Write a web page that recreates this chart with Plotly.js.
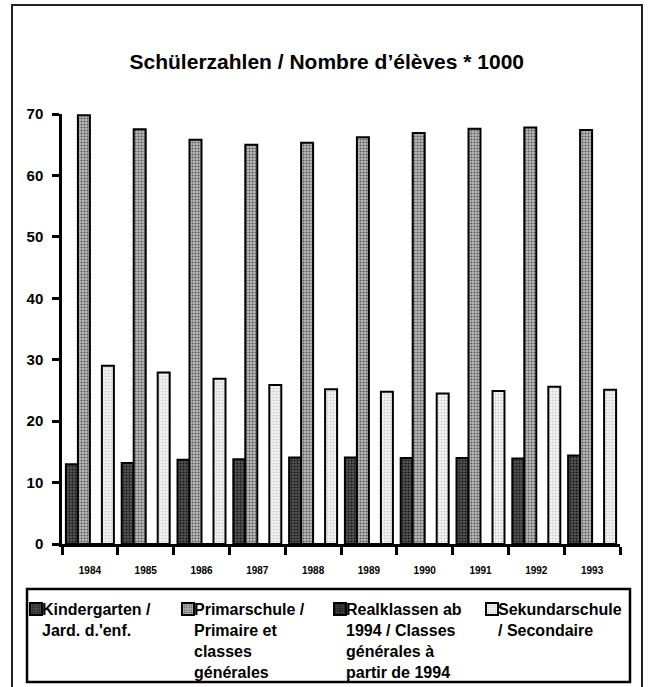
<!DOCTYPE html>
<html>
<head>
<meta charset="utf-8">
<script src="https://cdn.plot.ly/plotly-3.0.1.min.js"></script>
<style>
  html, body { margin: 0; padding: 0; background: #fff; }
  #chart { width: 651px; height: 687px; }
</style>
</head>
<body>
<div id="chart"></div>
<script>
// ---- data ----
const years = ['1984','1985','1986','1987','1988','1989','1990','1991','1992','1993'];
const kindergarten = [13.0, 13.2, 13.7, 13.8, 14.1, 14.1, 14.0, 14.0, 13.9, 14.4];
const primarschule = [69.8, 67.5, 65.8, 65.0, 65.3, 66.2, 66.9, 67.6, 67.8, 67.4];
const realklassen  = [0, 0, 0, 0, 0, 0, 0, 0, 0, 0];
const sekundarschule = [29.0, 27.9, 26.9, 25.9, 25.2, 24.8, 24.5, 24.9, 25.6, 25.1];
const seriesNames = [
  'Kindergarten /<br>Jard. d.\'enf.',
  'Primarschule /<br>Primaire et<br>classes<br>générales',
  'Realklassen ab<br>1994 / Classes<br>générales à<br>partir de 1994',
  'Sekundarschule<br>/ Secondaire'
];
const yTicks = [0, 10, 20, 30, 40, 50, 60, 70];

// ---- styling ----
const FONT = 'Liberation Sans, Arial, Helvetica, sans-serif';
const fills = [
  {bg: '#555555', fg: '#161616'},
  {bg: '#bcbcbc', fg: '#5a5a5a'},
  {bg: '#1a1a1a', fg: '#555555'},
  {bg: '#f6f6f6', fg: '#cfcfcf'}
];
const values = [kindergarten, primarschule, realklassen, sekundarschule];

const traces = values.map((v, i) => ({
  type: 'bar',
  x: years,
  y: v,
  name: seriesNames[i],
  marker: {
    color: fills[i].bg,
    line: {color: '#000', width: 2},
    pattern: {shape: '.', fgcolor: fills[i].fg, bgcolor: fills[i].bg, size: 3, solidity: 0.4, fillmode: 'replace'}
  },
  hoverinfo: 'x+y'
}));

// plot area geometry (px)
const W = 651, H = 687;
const L = 62, R = 31, T = 114, B = 143;
const pw = W - L - R, ph = H - T - B;
const px = x => (x - L) / pw;
const py = y => (H - B - y) / ph;

const layout = {
  width: W, height: H,
  margin: {l: L, r: R, t: T, b: B, pad: 0, autoexpand: false},
  paper_bgcolor: '#fff',
  plot_bgcolor: '#fff',
  font: {family: FONT, color: '#000'},
  title: {
    text: '<b>Schülerzahlen / Nombre d’élèves * 1000</b>',
    font: {family: FONT, size: 21, color: '#000'},
    x: 0.502, xanchor: 'center', xref: 'container',
    y: 1 - 62 / H, yanchor: 'middle', yref: 'container'
  },
  barmode: 'group',
  bargap: 0.14,
  bargroupgap: 0,
  xaxis: {
    type: 'category',
    categoryarray: years, categoryorder: 'array',
    tickson: 'boundaries',
    ticks: 'outside', ticklen: 8, tickwidth: 2.5, tickcolor: '#000',
    showline: true, linecolor: '#000', linewidth: 2.5,
    showgrid: false, zeroline: false,
    tickfont: {family: FONT, size: 10, color: '#000', weight: 'bold'},
    ticklabelstandoff: 15,
    fixedrange: true
  },
  // overlay axis so the x ticks cross the axis line
  xaxis2: {
    type: 'category', overlaying: 'x', anchor: 'y',
    categoryarray: years, categoryorder: 'array',
    range: [-0.5, years.length - 0.5],
    tickson: 'boundaries',
    ticks: 'inside', ticklen: 4, tickwidth: 2.5, tickcolor: '#000',
    showticklabels: false, showline: false, showgrid: false, zeroline: false,
    fixedrange: true
  },
  yaxis: {
    range: [0, 70],
    tickvals: yTicks,
    ticks: 'outside', ticklen: 7, tickwidth: 2.5, tickcolor: '#000',
    showline: true, linecolor: '#000', linewidth: 2.5,
    showgrid: false, zeroline: false,
    tickfont: {family: FONT, size: 15, color: '#000', weight: 'bold'},
    ticklabelstandoff: 6,
    fixedrange: true
  },
  // overlay axis so the y ticks cross the axis line
  yaxis2: {
    overlaying: 'y', anchor: 'x', side: 'left',
    range: [0, 70],
    tickvals: yTicks,
    ticks: 'inside', ticklen: 7, tickwidth: 2.5, tickcolor: '#000',
    showticklabels: false, showline: false, showgrid: false, zeroline: false,
    fixedrange: true
  },
  showlegend: true,
  legend: {
    orientation: 'h',
    x: px(2), xanchor: 'left',
    y: py(592), yanchor: 'top',
    bgcolor: 'rgba(0,0,0,0)',
    borderwidth: 0,
    font: {family: FONT, size: 16, color: '#000', weight: 'bold'},
    valign: 'top',
    entrywidth: 107, entrywidthmode: 'pixels',
    traceorder: 'normal',
    itemclick: false, itemdoubleclick: false
  },
  shapes: [
    // outer frame
    {type: 'rect', xref: 'paper', yref: 'paper',
     x0: px(12), x1: px(642), y0: py(700), y1: py(5),
     line: {color: '#222', width: 2}, fillcolor: 'rgba(0,0,0,0)', layer: 'below'},
    // legend box
    {type: 'rect', xref: 'paper', yref: 'paper',
     x0: px(27), x1: px(630), y0: py(682), y1: py(589),
     line: {color: '#000', width: 2.5}, fillcolor: 'rgba(0,0,0,0)', layer: 'below'}
  ]
};

Plotly.newPlot('chart', traces, layout, {displayModeBar: false, responsive: false}).then(gd => {
  // let the last legend entry's text run past the computed legend width
  gd.querySelectorAll('g.legend g.scrollbox').forEach(g => g.removeAttribute('clip-path'));
  // place the legend swatches right next to their labels, as in the original
  gd.querySelectorAll('g.legend g.legendpoints').forEach(g => g.setAttribute('transform', 'translate(14,0)'));
});
</script>
</body>
</html>
